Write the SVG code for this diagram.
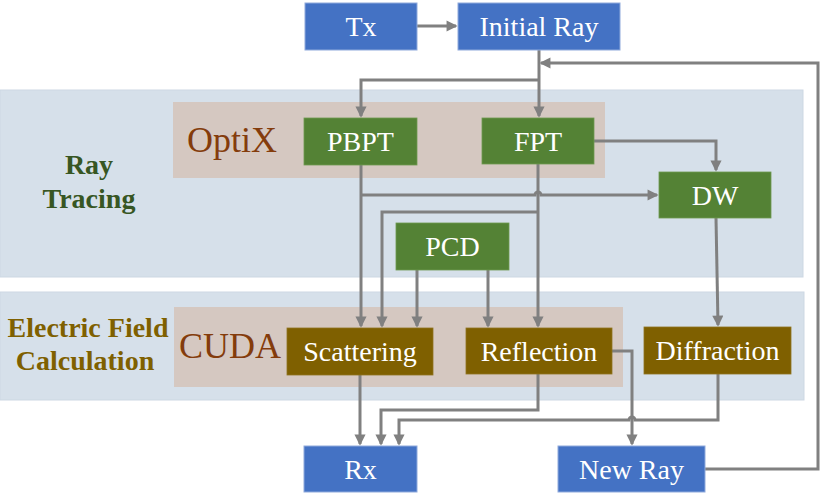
<svg xmlns="http://www.w3.org/2000/svg" width="820" height="493" viewBox="0 0 820 493">
  <defs>
    <marker id="arr" viewBox="0 0 10 10" refX="8.5" refY="5" markerWidth="4" markerHeight="3.7" orient="auto" markerUnits="strokeWidth">
      <path d="M0,0 L10,5 L0,10 z" fill="#808080"/>
    </marker>
    <style>
      .band { fill: #D6E0EA; stroke: #CDD8E3; stroke-width: 1; }
      .tool { fill: #D5C8C1; }
      .blue { fill: #4472C4; stroke: #8FAADC; stroke-width: 1; }
      .green { fill: #548235; stroke: #6E9A50; stroke-width: 0.8; }
      .brown { fill: #7F6000; stroke: #8F7420; stroke-width: 0.8; }
      .lbl { font-family: "Liberation Serif", "Times New Roman", serif; font-size: 28px; fill: #FFFFFF; text-anchor: middle; }
      .tooltxt { font-family: "Liberation Serif", "Times New Roman", serif; font-size: 36px; fill: #843C0C; }
      .sec { font-family: "Liberation Serif", "Times New Roman", serif; font-size: 28px; font-weight: bold; text-anchor: middle; }
      .conn { fill: none; stroke: #808080; stroke-width: 3; stroke-linejoin: miter; }
      .conn.a { marker-end: url(#arr); }
    </style>
  </defs>

  <g id="background">
    <rect class="band" x="0" y="90" width="803" height="187"/>
    <rect class="band" x="0" y="292" width="804" height="108"/>
    <rect class="tool" x="173" y="102" width="432" height="76"/>
    <rect class="tool" x="174" y="307" width="449" height="80"/>
    <text class="sec" x="89" y="174" fill="#375623">Ray</text>
    <text class="sec" x="89" y="208" fill="#375623">Tracing</text>
    <text class="sec" x="88" y="337" fill="#7F6000">Electric Field</text>
    <text class="sec" x="85" y="370" fill="#7F6000">Calculation</text>
    <text class="tooltxt" x="187" y="152">OptiX</text>
    <text class="tooltxt" x="179" y="358">CUDA</text>
  </g>

  <g id="connectors">
    <path class="conn a" d="M417,26 H456"/>
    <path class="conn a" d="M539,50 V116"/>
    <path class="conn a" d="M539,80 H361 V116"/>
    <path class="conn a" d="M705,469 H818 V63 H541"/>
    <path class="conn a" d="M594,141 H716 V170"/>
    <path class="conn a" d="M361,165 V326"/>
    <path class="conn a" d="M361,195 H535 A3,3 0 0 1 541,195 H657"/>
    <path class="conn a" d="M538,164 V326"/>
    <path class="conn a" d="M538,212 H382 V326"/>
    <path class="conn a" d="M417,270 V326"/>
    <path class="conn a" d="M488,270 V326"/>
    <path class="conn a" d="M716,218 L718,325"/>
    <path class="conn a" d="M360,375 V444"/>
    <path class="conn a" d="M538,374 V410 H381 V444"/>
    <path class="conn a" d="M718,374 V420 H635 A3,3 0 0 0 629,420 H399 V444"/>
    <path class="conn a" d="M612,351 H632 V444"/>
  </g>

  <g id="node-tx">
    <rect class="blue" x="305" y="3" width="112" height="47"/>
    <text class="lbl" x="361" y="36">Tx</text>
  </g>
  <g id="node-initial-ray">
    <rect class="blue" x="458" y="3" width="162" height="47"/>
    <text class="lbl" x="539" y="36">Initial Ray</text>
  </g>
  <g id="node-pbpt">
    <rect class="green" x="304" y="118" width="113" height="47"/>
    <text class="lbl" x="360.5" y="151">PBPT</text>
  </g>
  <g id="node-fpt">
    <rect class="green" x="482" y="118" width="112" height="46"/>
    <text class="lbl" x="538" y="151">FPT</text>
  </g>
  <g id="node-dw">
    <rect class="green" x="659" y="172" width="112" height="46"/>
    <text class="lbl" x="715" y="205">DW</text>
  </g>
  <g id="node-pcd">
    <rect class="green" x="396" y="223" width="113" height="47"/>
    <text class="lbl" x="452.5" y="256">PCD</text>
  </g>
  <g id="node-scattering">
    <rect class="brown" x="287" y="328" width="146" height="47"/>
    <text class="lbl" x="360" y="361">Scattering</text>
  </g>
  <g id="node-reflection">
    <rect class="brown" x="466" y="328" width="146" height="46"/>
    <text class="lbl" x="539" y="361">Reflection</text>
  </g>
  <g id="node-diffraction">
    <rect class="brown" x="644" y="327" width="147" height="47"/>
    <text class="lbl" x="717.5" y="360">Diffraction</text>
  </g>
  <g id="node-rx">
    <rect class="blue" x="304" y="446" width="113" height="46"/>
    <text class="lbl" x="360.5" y="479">Rx</text>
  </g>
  <g id="node-new-ray">
    <rect class="blue" x="558" y="446" width="147" height="46"/>
    <text class="lbl" x="631.5" y="479">New Ray</text>
  </g>
</svg>
